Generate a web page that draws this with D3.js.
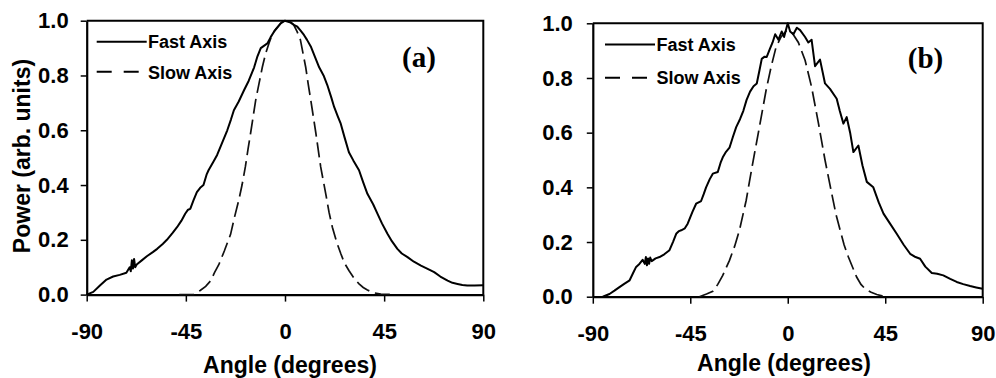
<!DOCTYPE html>
<html>
<head>
<meta charset="utf-8">
<script src="https://cdn.jsdelivr.net/npm/d3@7"></script>
<style>
  body { margin: 0; background: #fff; }
  text { font-family: "Liberation Sans", Arial, sans-serif; font-weight: bold; fill: #000; }
</style>
</head>
<body>
<script>
const angleTicks = [-90, -45, 0, 45, 90];
const powerTicks = [0, 0.2, 0.4, 0.6, 0.8, 1.0];
const seriesNames = ['Fast Axis', 'Slow Axis'];

// panel (a), [angle, power]
const fastA = [
    [-90, 0.0], [-87, 0.01], [-84, 0.033], [-81, 0.055], [-78, 0.066], [-75, 0.072], [-72, 0.08],
    [-70.5, 0.1], [-70, 0.085], [-69.5, 0.125], [-69, 0.095], [-68.5, 0.13], [-68, 0.1], [-67.3, 0.11],
    [-65, 0.125], [-62.7, 0.14], [-60, 0.155], [-58, 0.167], [-55.5, 0.185], [-53.6, 0.2],
    [-51, 0.225], [-49, 0.246], [-47, 0.27], [-45.3, 0.295], [-44, 0.31], [-43, 0.313],
    [-41.5, 0.345], [-40, 0.374], [-38.5, 0.39], [-37, 0.4], [-35.5, 0.44], [-34.7, 0.454],
    [-32.5, 0.485], [-30.8, 0.51], [-28.5, 0.555], [-26.2, 0.6], [-24.5, 0.64], [-23.2, 0.673],
    [-21, 0.705], [-18.6, 0.746], [-16.5, 0.78], [-14, 0.83], [-12.5, 0.87], [-11, 0.9],
    [-8, 0.917], [-6.5, 0.94], [-5, 0.96], [-3.5, 0.975], [-2, 0.99], [0, 1.0], [2.6, 0.993],
    [4, 0.985], [5.6, 0.978], [7, 0.965], [8.6, 0.948], [10, 0.93], [11.7, 0.906], [13.5, 0.87],
    [15.5, 0.83], [17.5, 0.8], [19.2, 0.765], [21, 0.72], [22.3, 0.685], [24, 0.65], [25.3, 0.624],
    [27, 0.575], [29, 0.52], [31, 0.49], [33.6, 0.454], [35.5, 0.41], [37.4, 0.368], [40, 0.33],
    [42, 0.295], [44, 0.26], [46.5, 0.222], [48.5, 0.195], [51, 0.167], [53, 0.15], [55.6, 0.137],
    [58.5, 0.12], [61.7, 0.106], [64.5, 0.095], [67.7, 0.082], [70.5, 0.066], [73.8, 0.051],
    [76, 0.043], [78.3, 0.039], [80.5, 0.035], [82.7, 0.033], [86, 0.033], [90, 0.034]
];
const slowA = [
    [-48, 0.0], [-41.5, 0.0], [-38.5, 0.015], [-36, 0.03], [-33.8, 0.05], [-32, 0.08], [-30, 0.11],
    [-27.5, 0.16], [-24.7, 0.22], [-23, 0.28], [-21, 0.344], [-19.5, 0.4], [-18, 0.466],
    [-16.8, 0.53], [-15.6, 0.59], [-13.3, 0.71], [-11.8, 0.77], [-10.3, 0.83], [-8.8, 0.88],
    [-7.3, 0.917], [-5.8, 0.95], [-4.2, 0.97], [-1.2, 0.996], [1, 1.0], [2.5, 0.995], [4, 0.984],
    [5.5, 0.96], [7, 0.93], [8.2, 0.88], [9.4, 0.83], [10.5, 0.77], [11.7, 0.71], [14, 0.59],
    [16.2, 0.466], [18.5, 0.368], [20, 0.3], [21.5, 0.246], [23.5, 0.19], [25.3, 0.15], [27, 0.115],
    [29, 0.088], [31.5, 0.058], [33.6, 0.039], [35.5, 0.026], [37.4, 0.017], [40, 0.007],
    [43.5, 0.002], [50, 0.0]
];

// panel (b), [angle, power]
const fastB = [
    [-85.4, 0.0], [-82.3, 0.01], [-80, 0.022], [-77.7, 0.035], [-75.5, 0.047], [-73, 0.06],
    [-71.5, 0.085], [-70, 0.109], [-68.5, 0.12], [-67, 0.135], [-66, 0.12], [-65.5, 0.145],
    [-65, 0.115], [-64.5, 0.14], [-64, 0.12], [-63.5, 0.143], [-62.8, 0.13], [-61, 0.14],
    [-59.2, 0.145], [-57, 0.155], [-54.6, 0.17], [-53, 0.2], [-51.5, 0.23], [-50.2, 0.24],
    [-49.2, 0.243], [-47.5, 0.25], [-46.2, 0.267], [-44, 0.31], [-42.3, 0.34], [-40, 0.35],
    [-38.8, 0.375], [-37.7, 0.4], [-36, 0.43], [-34.6, 0.45], [-32.3, 0.456], [-31, 0.49],
    [-30, 0.51], [-28.5, 0.53], [-26.9, 0.545], [-25.3, 0.585], [-23.8, 0.62], [-22, 0.65],
    [-20.5, 0.68], [-19, 0.72], [-17.4, 0.75], [-15.8, 0.77], [-14.3, 0.78], [-13, 0.83],
    [-12, 0.87], [-10.7, 0.878], [-9.7, 0.877], [-8.2, 0.907], [-7, 0.93], [-5.8, 0.96],
    [-4.3, 0.94], [-2.8, 0.97], [-1.7, 0.95], [0, 1.0], [1.1, 0.97], [2.6, 0.96], [4.2, 0.984],
    [5.7, 0.975], [8, 0.95], [9.5, 0.93], [11, 0.94], [12.6, 0.843], [14.9, 0.867], [17.2, 0.78],
    [19.5, 0.76], [22.6, 0.724], [24, 0.68], [25.7, 0.633], [27.2, 0.657], [28.8, 0.6],
    [30.3, 0.529], [32.6, 0.553], [34.5, 0.48], [36.5, 0.42], [39.5, 0.4], [42, 0.345],
    [44.2, 0.304], [47, 0.27], [50.3, 0.23], [53.5, 0.19], [56.5, 0.157], [59, 0.145],
    [61.1, 0.139], [63.5, 0.11], [66.5, 0.087], [69, 0.084], [71.8, 0.078], [75, 0.065],
    [78, 0.054], [81, 0.046], [84.2, 0.039], [87, 0.034], [90, 0.029]
];
const slowB = [
    [-40.8, 0.0], [-37.5, 0.01], [-34.6, 0.02], [-32.3, 0.045], [-30, 0.078], [-26.9, 0.133],
    [-24.5, 0.185], [-22.3, 0.243], [-19.2, 0.352], [-17.7, 0.42], [-16.2, 0.487], [-13.1, 0.62],
    [-10, 0.755], [-7.7, 0.84], [-5.4, 0.913], [-3.1, 0.95], [-0.5, 0.974], [1.8, 0.968],
    [4.9, 0.93], [8, 0.865], [11, 0.767], [14.2, 0.633], [17.2, 0.5], [20.3, 0.377],
    [22.3, 0.3], [24.2, 0.243], [26, 0.19], [28, 0.145], [31.8, 0.072], [33.8, 0.045],
    [35.7, 0.029], [38.5, 0.016], [41.1, 0.008], [43.5, 0.003], [45.7, 0.0]
];

const width = 996;
const height = 378;

const svg = d3.select('body')
    .append('svg')
    .attr('width', width)
    .attr('height', height);

svg.append('rect').attr('width', width).attr('height', height).attr('fill', '#fff');

const panels = [
    {
        label: '(a)', fast: fastA, slow: slowA,
        left: 86.7, right: 483.3, top: 20.7, bottom: 294.6,
        labelX: 419, labelY: 67,
        legend: {x1: 96.7, x2: 146.7, y1: 41.7, y2: 71.7, tx: 148, ty1: 48, ty2: 78.5},
        titleX: 290, titleY: 373, tickPad: 12
    },
    {
        label: '(b)', fast: fastB, slow: slowB,
        left: 592.8, right: 982.7, top: 23.3, bottom: 296.7,
        labelX: 925.5, labelY: 68,
        legend: {x1: 605, x2: 655, y1: 44.5, y2: 77.7, tx: 656.5, ty1: 51, ty2: 84},
        titleX: 784, titleY: 371, tickPad: 14
    }
];

panels.forEach(p => drawPanel(p));

// y title only on the left panel
svg.append('text')
    .attr('transform', 'translate(30,156) rotate(-90)')
    .attr('text-anchor', 'middle')
    .style('font-size', '23px')
    .text('Power (arb. units)');


function drawPanel(p) {
    let x = d3.scaleLinear().domain([-90, 90]).range([p.left, p.right]);
    let y = d3.scaleLinear().domain([0, 1]).range([p.bottom, p.top]);

    let g = svg.append('g');

    // frame top + right
    g.append('path')
        .attr('d', `M${p.left},${p.top}H${p.right}V${p.bottom}`)
        .attr('fill', 'none')
        .attr('stroke', '#000')
        .attr('stroke-width', 2);

    let xAxis = g.append('g')
        .attr('transform', `translate(0,${p.bottom})`)
        .call(d3.axisBottom(x).tickValues(angleTicks).tickSize(7).tickSizeOuter(0)
            .tickPadding(22).tickFormat(d => String(d)));

    let yAxis = g.append('g')
        .attr('transform', `translate(${p.left},0)`)
        .call(d3.axisLeft(y).tickValues(powerTicks).tickSize(6).tickSizeOuter(0)
            .tickPadding(p.tickPad).tickFormat(d3.format('.1f')));

    [xAxis, yAxis].forEach(a => {
        a.select('.domain').attr('stroke-width', 2.2);
        a.selectAll('.tick line').attr('stroke-width', 1.5);
        a.selectAll('text').style('font-size', '22px').attr('font-family', null);
    });

    let line = d3.line().x(d => x(d[0])).y(d => y(d[1]));

    g.append('path')
        .datum(p.slow)
        .attr('d', line)
        .attr('fill', 'none')
        .attr('stroke', '#111')
        .attr('stroke-width', 1.7)
        .attr('stroke-dasharray', '15,6');

    g.append('path')
        .datum(p.fast)
        .attr('d', line)
        .attr('fill', 'none')
        .attr('stroke', '#000')
        .attr('stroke-width', 2)
        .attr('stroke-linejoin', 'round');

    // legend
    let lg = p.legend;
    g.append('line')
        .attr('x1', lg.x1).attr('x2', lg.x2).attr('y1', lg.y1).attr('y2', lg.y1)
        .attr('stroke', '#000').attr('stroke-width', 2);
    g.append('line')
        .attr('x1', lg.x1).attr('x2', lg.x2 - 6).attr('y1', lg.y2).attr('y2', lg.y2)
        .attr('stroke', '#000').attr('stroke-width', 2)
        .attr('stroke-dasharray', '15,12');
    g.append('text').attr('x', lg.tx).attr('y', lg.ty1).style('font-size', '18px').text(seriesNames[0]);
    g.append('text').attr('x', lg.tx).attr('y', lg.ty2).style('font-size', '18px').text(seriesNames[1]);

    g.append('text')
        .attr('x', p.labelX).attr('y', p.labelY)
        .attr('text-anchor', 'middle')
        .style('font-family', '"Liberation Serif", "Times New Roman", serif')
        .style('font-size', '29px')
        .text(p.label);

    g.append('text')
        .attr('x', p.titleX).attr('y', p.titleY)
        .attr('text-anchor', 'middle')
        .style('font-size', '23px')
        .text('Angle (degrees)');
}
</script>
</body>
</html>
